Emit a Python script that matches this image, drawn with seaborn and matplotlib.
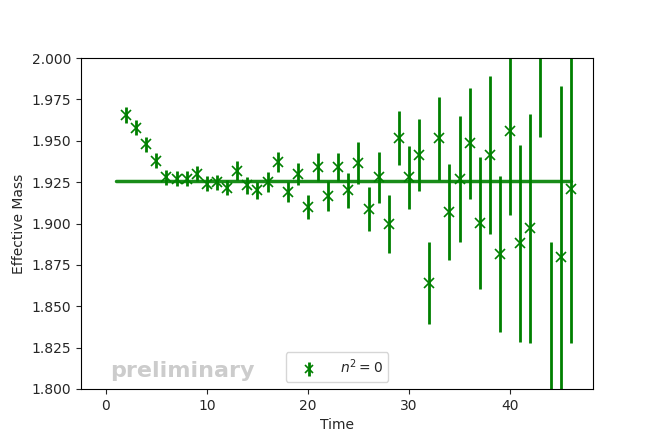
import numpy as np
import pandas as pd
import matplotlib
matplotlib.use("Agg")
import matplotlib.pyplot as plt
import seaborn as sns

# Data
times = [2, 3, 4, 5, 6, 7, 8, 9, 10, 11, 12, 13, 14, 15, 16, 17, 18, 19, 20,
         21, 22, 23, 24, 25, 26, 27, 28, 29, 30, 31, 32, 33, 34, 35, 36, 37,
         38, 39, 40, 41, 42, 43, 44, 45, 46]
eff_mass = [1.9656, 1.958, 1.948, 1.938, 1.928, 1.927, 1.927, 1.930, 1.924,
            1.925, 1.9215, 1.932, 1.923, 1.920, 1.925, 1.937, 1.919, 1.930,
            1.910, 1.934, 1.9166, 1.934, 1.920, 1.9366, 1.909, 1.928, 1.8997,
            1.9515, 1.928, 1.9414, 1.864, 1.9515, 1.907, 1.927, 1.9486,
            1.9003, 1.9414, 1.8816, 1.956, 1.888, 1.897, 2.030, 1.790, 1.880,
            1.921]
eff_err = [0.005, 0.0045, 0.0045, 0.0045, 0.0045, 0.0045, 0.0045, 0.0045,
           0.0045, 0.0045, 0.0045, 0.0055, 0.005, 0.005, 0.006, 0.006, 0.006,
           0.0065, 0.0075, 0.0085, 0.0088, 0.0085, 0.0105, 0.0125, 0.0133,
           0.0154, 0.0174, 0.0164, 0.019, 0.022, 0.0248, 0.025, 0.029, 0.038,
           0.0335, 0.040, 0.0477, 0.047, 0.051, 0.0595, 0.069, 0.078, 0.099,
           0.103, 0.093]
fit_t = [1, 46]
fit_mass = [1.9257, 1.9257]
yticks = [1.800, 1.825, 1.850, 1.875, 1.900, 1.925, 1.950, 1.975, 2.000]
xticks = [0, 10, 20, 30, 40]

sns.set_style("ticks")
plt.rcParams["font.family"] = ["DejaVu Sans"]

fig = plt.figure(figsize=(6.56, 4.43), dpi=100)
ax = fig.add_axes([81/656, 54/443, 512/656, 331/443])

fit_df = pd.DataFrame({"t": fit_t, "m": fit_mass})
sns.lineplot(data=fit_df, x="t", y="m", ax=ax, color="green",
             linewidth=2.5, alpha=0.9, legend=False)

ax.errorbar(times, eff_mass, yerr=eff_err, fmt="x", color="green",
            markersize=7, markeredgewidth=1.2, elinewidth=2, capsize=0,
            label=r"$n^2 = 0$")

ax.set_xlim(-2.45, 48.2)
ax.set_ylim(1.8, 2.0)
ax.set_yticks(yticks)
ax.set_yticklabels([f"{v:.3f}" for v in yticks])
ax.set_xticks(xticks)
ax.set_xlabel("Time", fontsize=10)
ax.set_ylabel("Effective Mass", fontsize=10)
ax.tick_params(labelsize=10, direction="out", length=3.5, width=0.8)
for sp in ax.spines.values():
    sp.set_linewidth(0.8)
    sp.set_color("black")

ax.legend(loc="lower center", fontsize=10, frameon=True,
          handlelength=2.5, handletextpad=1.0, markerscale=0.85)
ax.text(0.057, 0.025, "preliminary", transform=ax.transAxes,
        fontsize=16, fontweight="bold", color="0.8", ha="left", va="bottom")

fig.savefig("out.png", dpi=100)
